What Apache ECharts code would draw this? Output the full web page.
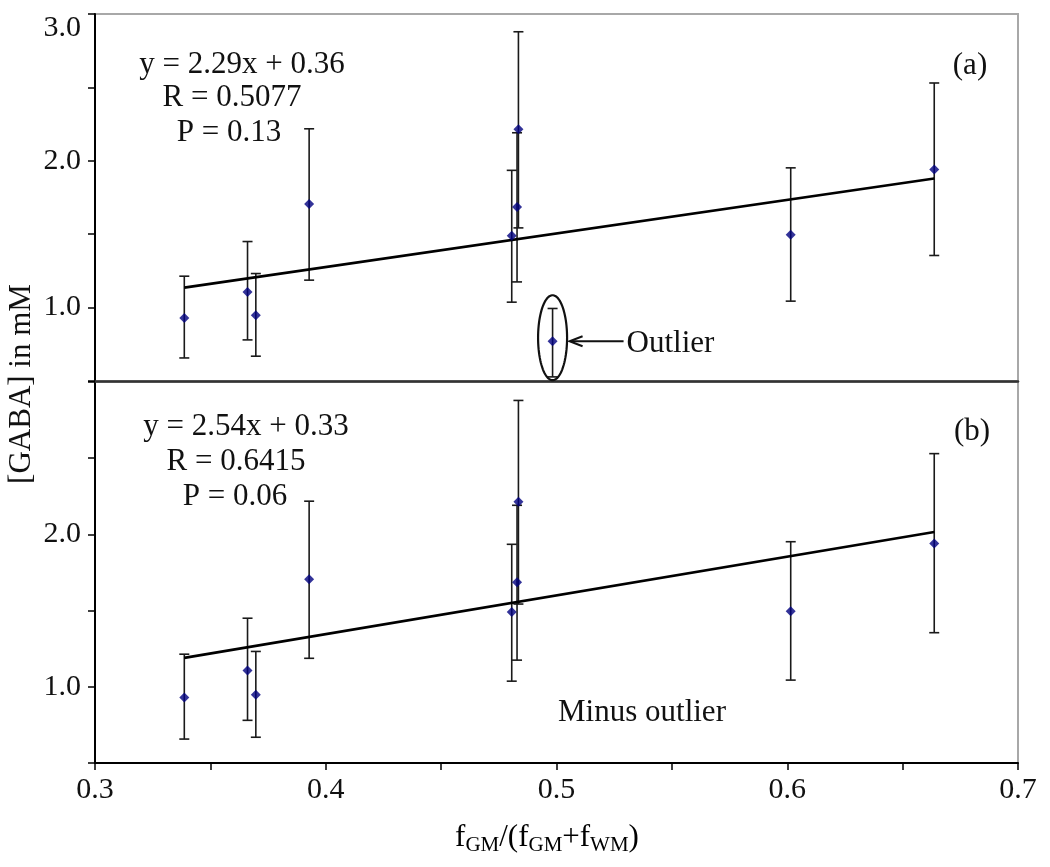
<!DOCTYPE html>
<html><head><meta charset="utf-8">
<script src="https://cdn.jsdelivr.net/npm/echarts@6/dist/echarts.min.js"></script>
<style>html,body{margin:0;padding:0;background:#fff}#c{width:1050px;height:867px}</style>
</head><body><div id="c"></div>
<script>
// ---- data ----
const fGM     = [0.3387, 0.3661, 0.3697, 0.3928, 0.4806, 0.4829, 0.4835, 0.4983, 0.6015, 0.6637];
const gaba    = [0.930, 1.107, 0.948, 1.705, 1.490, 1.686, 2.215, 0.771, 1.496, 1.941];
const errLow  = [0.657, 0.780, 0.669, 1.187, 1.037, 1.175, 1.543, 0.528, 1.044, 1.355];
const errHigh = [1.214, 1.450, 1.232, 2.218, 1.935, 2.191, 2.879, 0.994, 1.952, 2.530];
const outlierIndex = 7;
const trendA = [[0.3387, 1.136], [0.6637, 1.880]];
const trendB = [[0.3387, 1.190], [0.6637, 2.016]];
const xTicks  = ['0.3', '0.4', '0.5', '0.6', '0.7'];
const yTicksA = ['1.0', '2.0', '3.0'];
const yTicksB = ['1.0', '2.0'];
const eqA = ['y = 2.29x + 0.36', 'R = 0.5077', 'P = 0.13'];
const eqB = ['y = 2.54x + 0.33', 'R = 0.6415', 'P = 0.06'];
const panelA = '(a)', panelB = '(b)';
const noteB = 'Minus outlier';
const yTitle = '[GABA] in mM';

// ---- build ----
const FF = '"Liberation Serif","Times New Roman",serif';
const ptsA = fGM.map((x, i) => [x, gaba[i]]);
const ptsB = ptsA.filter((_, i) => i !== outlierIndex);
const errA = fGM.map((x, i) => [x, errLow[i], errHigh[i]]);
const errB = errA.filter((_, i) => i !== outlierIndex);

function fmtFrom(list) {
  return function (v) {
    const r = Math.round(v * 10) / 10;
    const s = r.toFixed(1);
    return (Math.abs(v * 10 - Math.round(v * 10)) < 1e-6 && list.includes(s)) ? s : '';
  };
}

function errRender(params, api) {
  const x = api.value(0), lo = api.value(1), hi = api.value(2);
  const a = api.coord([x, hi]), b = api.coord([x, lo]);
  const w = 5;
  const st = { stroke: '#1a1a1a', lineWidth: 1.6 };
  return { type: 'group', children: [
    { type: 'line', shape: { x1: a[0], y1: a[1], x2: b[0], y2: b[1] }, style: st },
    { type: 'line', shape: { x1: a[0] - w, y1: a[1], x2: a[0] + w, y2: a[1] }, style: st },
    { type: 'line', shape: { x1: b[0] - w, y1: b[1], x2: b[0] + w, y2: b[1] }, style: st }
  ]};
}

function outlierRender(params, api) {
  const p = api.coord([api.value(0), api.value(1)]);
  const cx = p[0], cy = p[1] - 3.5, rx = 14.5, ry = 42.5;
  const pts = [];
  for (let k = 0; k < 90; k++) {
    const t = k / 90 * 2 * Math.PI;
    pts.push([cx + rx * Math.cos(t), cy + ry * Math.sin(t)]);
  }
  const tip = cx + 17, y = p[1];
  return { type: 'group', children: [
    { type: 'polygon', shape: { points: pts }, style: { fill: 'none', stroke: '#111', lineWidth: 2.2 } },
    { type: 'line', shape: { x1: tip + 1, y1: y, x2: tip + 54, y2: y }, style: { stroke: '#111', lineWidth: 2 } },
    { type: 'polyline', shape: { points: [[tip + 13, y - 5], [tip, y], [tip + 13, y + 5]] }, style: { fill: 'none', stroke: '#111', lineWidth: 2 } },
    { type: 'text', x: tip + 57, y: y + 3, style: { text: 'Outlier', font: '31px ' + FF, fill: '#111', align: 'left', verticalAlign: 'middle' } }
  ]};
}

function txt(t, x, y, size, extra) {
  return Object.assign({ type: 'text', x: x, y: y, style: { text: t, font: (size || 31) + 'px ' + FF, fill: '#111', align: 'center', verticalAlign: 'middle' } }, extra || {});
}

const xAxisBase = {
  type: 'value', min: 0.3, max: 0.7, interval: 0.05,
  splitLine: { show: false }
};
const yAxisBase = {
  type: 'value', min: 0.5, max: 3.0, interval: 0.5,
  splitLine: { show: false },
  axisLine: { show: true, lineStyle: { color: '#000', width: 2 } },
  axisTick: { show: true, inside: false, length: 7, lineStyle: { color: '#000', width: 1.5 } }
};

const option = {
  animation: false,
  backgroundColor: '#fff',
  grid: [
    { left: 95, top: 14, width: 923, height: 367, show: true, borderColor: '#a8a8a8', borderWidth: 2, backgroundColor: 'transparent' },
    { left: 95, top: 382, width: 923, height: 381, show: true, borderColor: '#a8a8a8', borderWidth: 2, backgroundColor: 'transparent' }
  ],
  xAxis: [
    Object.assign({}, xAxisBase, {
      gridIndex: 0,
      axisLine: { show: true, onZero: false, lineStyle: { color: '#333', width: 2.5 } },
      axisTick: { show: false }, axisLabel: { show: false }
    }),
    Object.assign({}, xAxisBase, {
      gridIndex: 1,
      axisLine: { show: true, onZero: false, lineStyle: { color: '#000', width: 2 } },
      axisTick: { show: true, length: 7, lineStyle: { color: '#000', width: 1.5 } },
      axisLabel: { show: true, margin: 12, color: '#111', fontSize: 30, fontFamily: FF, formatter: fmtFrom(xTicks), showMinLabel: true, showMaxLabel: true }
    })
  ],
  yAxis: [
    Object.assign({}, yAxisBase, {
      gridIndex: 0,
      axisLabel: {
        show: true, margin: 14, color: '#111', fontSize: 30, fontFamily: FF,
        showMinLabel: true, showMaxLabel: true,
        formatter: function (v) {
          const s = fmtFrom(yTicksA)(v);
          if (s === '3.0') return '{top|' + s + '}';
          return s;
        },
        rich: { top: { fontSize: 30, fontFamily: FF, color: '#111', padding: [28, 0, 0, 0] } }
      }
    }),
    Object.assign({}, yAxisBase, {
      gridIndex: 1,
      axisLabel: { show: true, margin: 14, color: '#111', fontSize: 30, fontFamily: FF, formatter: fmtFrom(yTicksB) }
    })
  ],
  series: [
    { type: 'custom', xAxisIndex: 0, yAxisIndex: 0, data: errA, encode: { x: 0, y: [1, 2] }, renderItem: errRender, z: 2, silent: true },
    { type: 'line', xAxisIndex: 0, yAxisIndex: 0, data: trendA, symbol: 'none', lineStyle: { color: '#000', width: 2.6 }, z: 3, silent: true },
    { type: 'scatter', xAxisIndex: 0, yAxisIndex: 0, data: ptsA, symbol: 'diamond', symbolSize: 10, itemStyle: { color: '#000080' }, z: 4, silent: true },
    { type: 'custom', xAxisIndex: 0, yAxisIndex: 0, data: [ptsA[outlierIndex]], encode: { x: 0, y: 1 }, renderItem: outlierRender, z: 5, silent: true },

    { type: 'custom', xAxisIndex: 1, yAxisIndex: 1, data: errB, encode: { x: 0, y: [1, 2] }, renderItem: errRender, z: 2, silent: true },
    { type: 'line', xAxisIndex: 1, yAxisIndex: 1, data: trendB, symbol: 'none', lineStyle: { color: '#000', width: 2.6 }, z: 3, silent: true },
    { type: 'scatter', xAxisIndex: 1, yAxisIndex: 1, data: ptsB, symbol: 'diamond', symbolSize: 10, itemStyle: { color: '#000080' }, z: 4, silent: true }
  ],
  graphic: [
    txt(eqA[0], 242, 65), txt(eqA[1], 232, 98), txt(eqA[2], 229, 133),
    txt(eqB[0], 246, 427), txt(eqB[1], 236, 462), txt(eqB[2], 235, 497),
    txt(panelA, 970, 66), txt(panelB, 972, 432),
    txt(noteB, 642, 713),
    txt(yTitle, 22, 384, 31, { rotation: Math.PI / 2 }),
    {
      type: 'text', x: 547, y: 838,
      style: {
        text: '{m|f}{s|GM}{m|/(f}{s|GM}{m|+f}{s|WM}{m|)}',
        align: 'center', verticalAlign: 'middle',
        rich: {
          m: { fontSize: 31, fontFamily: FF, color: '#222', lineHeight: 36, verticalAlign: 'middle' },
          s: { fontSize: 21, fontFamily: FF, color: '#222', lineHeight: 22, verticalAlign: 'bottom' }
        }
      }
    }
  ]
};

const chart = echarts.init(document.getElementById('c'), null, { renderer: 'canvas' });
chart.setOption(option);
</script>
</body></html>
